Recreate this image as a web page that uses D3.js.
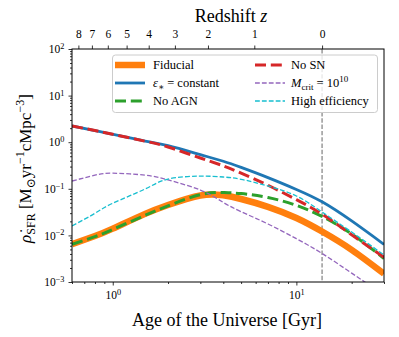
<!DOCTYPE html>
<html><head><meta charset="utf-8">
<script src="https://cdn.jsdelivr.net/npm/d3@7"></script>
<style>body{margin:0;background:#fff}svg{display:block}</style>
</head><body><svg id="c" width="399" height="337" style="font-family:'Liberation Serif','Times New Roman','DejaVu Serif',serif"></svg>
<script>
// ---- data ----
const ages      = [0.6, 0.8, 1, 1.5, 2, 3, 4, 5, 7, 10, 13.8, 20, 30];           // Gyr
const fiducial  = [0.0065,0.0097,0.014,0.029,0.045,0.072,0.0725,0.0604,0.041,0.0236,0.0121,0.0049,0.0015];
const constant  = [2.23,1.78,1.48,1.06,0.84,0.54,0.39,0.288,0.174,0.097,0.0526,0.0204,0.0064];
const noAGN     = [0.0064,0.0094,0.0134,0.027,0.043,0.075,0.083,0.079,0.065,0.044,0.0255,0.0107,0.0032];
const noSN      = [2.23,1.78,1.48,1.05,0.79,0.458,0.31,0.216,0.119,0.0586,0.0285,0.0103,0.0034];
const mcrit     = [0.147,0.196,0.216,0.196,0.155,0.094,0.051,0.0323,0.0176,0.0085,0.0041,0.00155,0.00053];
const highEff   = [0.0159,0.0298,0.049,0.099,0.162,0.187,0.179,0.160,0.115,0.070,0.0318,0.0118,0.0038];
const redshiftTicks = [8,7,6,5,4,3,2,1,0];
const redshiftAges  = [0.65,0.77,0.94,1.19,1.57,2.18,3.30,5.90,13.8];
const yMajor = [-3,-2,-1,0,1,2];     // exponents
const xMajor = [0,1];                // exponents
const todayAge = 13.8;

const FONT = "'Liberation Serif','Times New Roman','DejaVu Serif',serif";
const series = [
  {name:"Fiducial", vals:fiducial, color:"#ff7f0e", w:6.5, dash:null},
  {name:"const",    vals:constant, color:"#1f77b4", w:2.8, dash:null},
  {name:"No AGN",   vals:noAGN,    color:"#2ca02c", w:3,   dash:"11,4.8"},
  {name:"No SN",    vals:noSN,     color:"#d62728", w:3,   dash:"11,4.8"},
  {name:"mcrit",    vals:mcrit,    color:"#9467bd", w:1.3, dash:"4.8,2.1"},
  {name:"High efficiency", vals:highEff, color:"#17becf", w:1.3, dash:"4.8,2.1"}
];

const L=72, R=384, T=49, B=282;
const svg = d3.select("#c");
const x = d3.scaleLog().domain([0.6,30]).range([L,R]);
const y = d3.scaleLog().domain([1e-3,1e2]).range([B,T]);

svg.append("clipPath").attr("id","clip").append("rect").attr("x",L).attr("y",T).attr("width",R-L).attr("height",B-T);
const plot = svg.append("g").attr("clip-path","url(#clip)");

plot.append("line").attr("x1",x(todayAge)).attr("x2",x(todayAge)).attr("y1",T).attr("y2",B)
  .attr("stroke","#808080").attr("stroke-width",1.2).attr("stroke-dasharray","4.4,1.9");

const line = d3.line().x((d,i)=>x(ages[i])).y(d=>y(d)).curve(d3.curveNatural);
series.forEach(s=>{
  plot.append("path").attr("d",line(s.vals)).attr("fill","none").attr("stroke",s.color)
    .attr("stroke-width",s.w).attr("stroke-dasharray",s.dash);
});

function sup10(t, e){
  t.text(null);
  t.append("tspan").text("10");
  t.append("tspan").attr("dy","-0.5em").attr("font-size","0.72em").text(e<0?"\u2212"+(-e):e);
}
function minors(lo,hi){const a=[];for(let e=lo;e<=hi;e++)for(let k=2;k<=9;k++)a.push(k*Math.pow(10,e));return a;}
const xMin = minors(-1,1).filter(v=>v>=0.6&&v<=30);
const yMin = minors(-3,1);

const gx = svg.append("g").attr("transform",`translate(0,${B})`);
gx.call(d3.axisBottom(x).tickValues(xMin).tickSize(2).tickFormat(""));
const gxM = svg.append("g").attr("transform",`translate(0,${B})`);
gxM.call(d3.axisBottom(x).tickValues(xMajor.map(e=>Math.pow(10,e))).tickSize(3.5).tickPadding(5).tickFormat(""));
gxM.selectAll(".tick text").each(function(d){sup10(d3.select(this),Math.round(Math.log10(d)));});

const gy = svg.append("g").attr("transform",`translate(${L},0)`);
gy.call(d3.axisLeft(y).tickValues(yMin).tickSize(2).tickFormat(""));
const gyM = svg.append("g").attr("transform",`translate(${L},0)`);
gyM.call(d3.axisLeft(y).tickValues(yMajor.map(e=>Math.pow(10,e))).tickSize(3.5).tickPadding(4).tickFormat(""));
gyM.selectAll(".tick text").each(function(d){sup10(d3.select(this),Math.round(Math.log10(d)));});

const gt = svg.append("g").attr("transform",`translate(0,${T})`);
gt.call(d3.axisTop(x).tickValues(redshiftAges).tickSize(3.5).tickPadding(7.5).tickFormat((d,i)=>redshiftTicks[i]));

[gx,gxM,gy,gyM,gt].forEach(g=>{
  g.attr("font-family",FONT).attr("font-size",11.5);
  g.select(".domain").remove();
  g.selectAll(".tick line").attr("stroke","#000").attr("stroke-width",0.8);
  g.selectAll(".tick text").attr("fill","#000");
});
svg.append("rect").attr("x",L).attr("y",T).attr("width",R-L).attr("height",B-T)
  .attr("fill","none").attr("stroke","#000").attr("stroke-width",1);

svg.append("text").attr("x",231).attr("y",22).attr("text-anchor","middle").attr("font-size",18)
  .call(t=>{t.append("tspan").text("Redshift ");t.append("tspan").attr("font-style","italic").text("z");});
svg.append("text").attr("x",227).attr("y",325.5).attr("text-anchor","middle").attr("font-size",18).text("Age of the Universe [Gyr]");

const yl = svg.append("text").attr("transform","translate(31,168.5) rotate(-90)").attr("text-anchor","middle").attr("font-size",17);
yl.append("tspan").attr("font-style","italic").text("\u03C1\u0307");
yl.append("tspan").attr("font-size",12).attr("dy",4).text("SFR");
yl.append("tspan").attr("dy",-4).text(" [M");
yl.append("tspan").attr("font-size",12).attr("dy",4).text("\u2299");
yl.append("tspan").attr("dy",-4).text("yr");
yl.append("tspan").attr("font-size",12).attr("dy",-7).text("\u22121");
yl.append("tspan").attr("dy",7).text("cMpc");
yl.append("tspan").attr("font-size",12).attr("dy",-7).text("\u22123");
yl.append("tspan").attr("dy",7).text("]");

const lg = svg.append("g");
lg.append("rect").attr("x",112.5).attr("y",55).attr("width",265).attr("height",57.5).attr("rx",3)
  .attr("fill","#fff").attr("fill-opacity",0.8).attr("stroke","#cccccc").attr("stroke-width",1);
const rows=[65,83,101];
const labelFns = [
  t=>t.text("Fiducial"),
  t=>{t.append("tspan").attr("font-style","italic").text("\u03B5");t.append("tspan").attr("font-size",9).attr("dy",3).text("\u2217");t.append("tspan").attr("dy",-3).text(" = constant");},
  t=>t.text("No AGN"),
  t=>t.text("No SN"),
  t=>{t.append("tspan").attr("font-style","italic").text("M");t.append("tspan").attr("font-size",9).attr("dy",3).text("crit");t.append("tspan").attr("dy",-3).text(" = 10");t.append("tspan").attr("font-size",9).attr("dy",-5).text("10");},
  t=>t.text("High efficiency")
];
series.forEach((s,i)=>{
  const col=Math.floor(i/3), row=i%3;
  const hx = col===0?115:255, tx = col===0?153:291;
  lg.append("line").attr("x1",hx).attr("x2",hx+30).attr("y1",rows[row]).attr("y2",rows[row])
    .attr("stroke",s.color).attr("stroke-width",s.w).attr("stroke-dasharray",s.dash);
  const t=lg.append("text").attr("x",tx).attr("y",rows[row]+4.3).attr("font-size",12.5);
  labelFns[i](t);
});
</script></body></html>
